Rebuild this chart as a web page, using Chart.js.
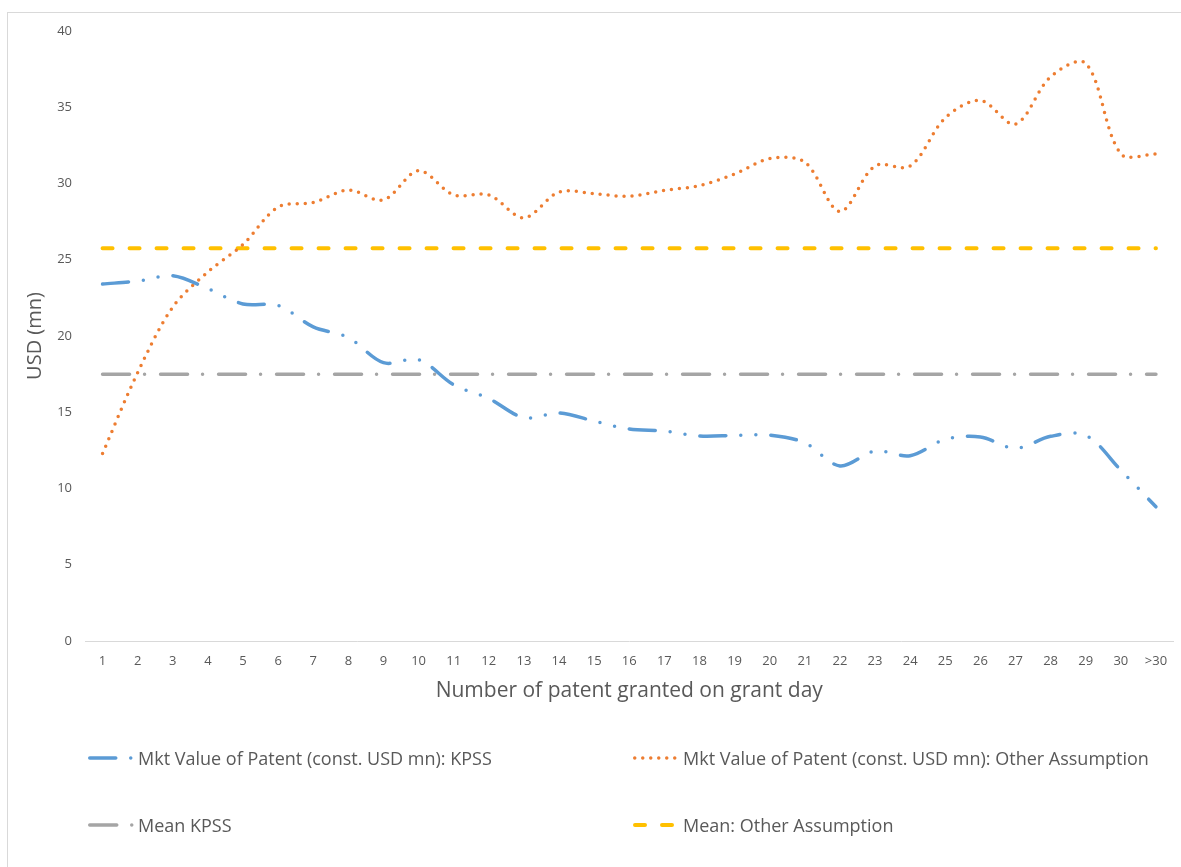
<!DOCTYPE html>
<html>
<head>
<meta charset="utf-8">
<script src="https://cdn.jsdelivr.net/npm/chart.js@4"></script>
<style>
  html, body { margin: 0; padding: 0; background: #ffffff; }
  #wrap { position: relative; width: 1181px; height: 867px; }
</style>
</head>
<body>
<div id="wrap"><canvas id="chart"></canvas></div>
<script>
// Patents granted on a single grant day, 1..30 and more than 30
const categories = ['1','2','3','4','5','6','7','8','9','10','11','12','13','14','15','16','17','18','19','20','21','22','23','24','25','26','27','28','29','30','>30'];

// Market value of a patent, constant USD mn, KPSS measure
const kpssValues = [23.41, 23.6, 23.95, 23.1, 22.1, 22.0, 20.6, 19.9, 18.25, 18.45, 16.8, 15.9, 14.65, 14.95, 14.42, 13.9, 13.77, 13.44, 13.48, 13.5, 13.0, 11.48, 12.46, 12.15, 13.22, 13.38, 12.63, 13.42, 13.49, 11.2, 8.8];

// Market value of a patent, constant USD mn, other assumption
const otherValues = [12.3, 17.6, 21.9, 24.2, 26.0, 28.45, 28.75, 29.57, 28.92, 30.84, 29.25, 29.25, 27.75, 29.44, 29.33, 29.16, 29.55, 29.86, 30.62, 31.63, 31.4, 28.17, 31.15, 31.15, 34.3, 35.45, 33.9, 37.0, 37.88, 31.95, 31.93];

// Overall means
const meanKpss = 17.5;
const meanOther = 25.75;

// Y axis range and step
const yTicks = { min: 0, max: 40, step: 5 };

const seriesNames = [
  'Mkt Value of Patent (const. USD mn): KPSS',
  'Mkt Value of Patent (const. USD mn): Other Assumption',
  'Mean KPSS',
  'Mean: Other Assumption'
];

const FONT = "'Open Sans', 'Noto Sans', sans-serif";
const TEXT = '#595959';

// Frame around the whole figure
const framePlugin = {
  id: 'frame',
  beforeDraw(chart) {
    const ctx = chart.ctx;
    ctx.save();
    ctx.strokeStyle = '#d9d9d9';
    ctx.lineWidth = 1;
    ctx.strokeRect(7.5, 12.5, chart.width + 20, chart.height + 20);
    ctx.restore();
  }
};

// Two-column legend under the axis title
const gridLegend = {
  id: 'gridLegend',
  afterDraw(chart) {
    const ctx = chart.ctx;
    const cols = [88, 633];
    const rows = [758, 825];
    chart.data.datasets.forEach((ds, i) => {
      const x0 = cols[i % 2];
      const y = rows[Math.floor(i / 2)];
      ctx.save();
      ctx.strokeStyle = ds.borderColor;
      ctx.lineWidth = ds.borderWidth;
      ctx.lineCap = ds.borderCapStyle || 'butt';
      ctx.setLineDash(ds.borderDash || []);
      const hw = ds.borderWidth / 2;
      ctx.beginPath();
      ctx.moveTo(x0 + hw, y);
      ctx.lineTo(x0 + 44, y);
      ctx.stroke();
      ctx.setLineDash([]);
      ctx.fillStyle = TEXT;
      ctx.font = '18px ' + FONT;
      ctx.textBaseline = 'middle';
      ctx.textAlign = 'left';
      ctx.fillText(ds.label, x0 + 50, y + 1.5);
      ctx.restore();
    });
  }
};

const lineBase = {
  pointRadius: 0,
  pointHoverRadius: 0,
  fill: false,
  borderCapStyle: 'round',
  borderJoinStyle: 'round'
};

new Chart(document.getElementById('chart'), {
  type: 'line',
  data: {
    labels: categories,
    datasets: [
      Object.assign({}, lineBase, {
        label: seriesNames[0],
        data: kpssValues,
        borderColor: '#5b9bd5',
        borderWidth: 3.5,
        borderDash: [26, 15, 0, 15, 0, 15],
        tension: 0.33
      }),
      Object.assign({}, lineBase, {
        label: seriesNames[1],
        data: otherValues,
        borderColor: '#ed7d31',
        borderWidth: 3.5,
        borderDash: [0, 8],
        tension: 0.33
      }),
      Object.assign({}, lineBase, {
        label: seriesNames[2],
        data: categories.map(() => meanKpss),
        borderColor: '#a5a5a5',
        borderWidth: 3.5,
        borderDash: [27, 15, 0, 16],
        tension: 0
      }),
      Object.assign({}, lineBase, {
        label: seriesNames[3],
        data: categories.map(() => meanOther),
        borderColor: '#ffc000',
        borderWidth: 4,
        borderDash: [10, 17],
        tension: 0
      })
    ]
  },
  options: {
    responsive: true,
    maintainAspectRatio: false,
    animation: false,
    events: [],
    layout: { padding: { left: 0, right: 7.5, top: 31, bottom: 156 } },
    plugins: {
      legend: { display: false },
      tooltip: { enabled: false }
    },
    scales: {
      x: {
        offset: true,
        grid: { display: false, drawTicks: false },
        border: { display: true, color: '#d9d9d9', width: 1 },
        ticks: {
          color: TEXT,
          font: { family: FONT, size: 13 },
          padding: 12,
          maxRotation: 0,
          autoSkip: false
        },
        title: {
          display: true,
          text: 'Number of patent granted on grant day',
          color: TEXT,
          font: { family: FONT, size: 21 },
          padding: { top: 0, bottom: 7 }
        },
        afterFit(scale) { scale.height = 70; }
      },
      y: {
        min: yTicks.min,
        max: yTicks.max,
        grid: { display: false, drawTicks: false },
        border: { display: false },
        ticks: {
          stepSize: yTicks.step,
          color: TEXT,
          font: { family: FONT, size: 13 },
          padding: 13
        },
        title: {
          display: true,
          text: 'USD (mn)',
          color: TEXT,
          font: { family: FONT, size: 20 },
          padding: { top: 23, bottom: 0 }
        },
        afterFit(scale) { scale.width = 85; }
      }
    }
  },
  plugins: [framePlugin, gridLegend]
});
</script>
</body>
</html>
